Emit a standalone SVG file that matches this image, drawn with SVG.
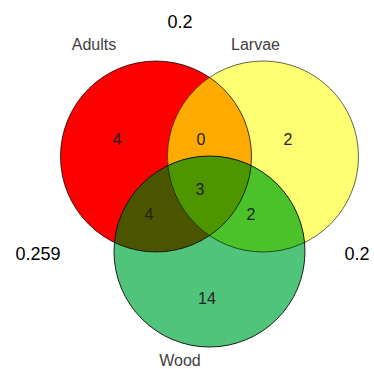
<svg xmlns="http://www.w3.org/2000/svg" width="374" height="369" viewBox="0 0 374 369">
<style>
.lbl{font-family:"Liberation Sans",Arial,sans-serif;font-size:16px;fill:#404040;text-anchor:middle}
.val{font-family:"Liberation Sans",Arial,sans-serif;font-size:18px;fill:#000;text-anchor:middle}
.cnt{font-family:"Liberation Sans",Arial,sans-serif;font-size:16px;fill:#222;text-anchor:middle}
.edge{fill:none;stroke:#000;stroke-width:1}
</style>
<defs>
<clipPath id="cA"><circle cx="156" cy="156.5" r="95.5"/></clipPath>
<clipPath id="cL"><circle cx="263" cy="156.5" r="95.5"/></clipPath>
<clipPath id="cW"><circle cx="209.5" cy="251.5" r="95.5"/></clipPath>
</defs>
<rect width="374" height="369" fill="#fff"/>
<g id="adults">
<circle cx="156" cy="156.5" r="95.5" fill="#ff0000"/>
</g>
<g id="larvae">
<circle cx="263" cy="156.5" r="95.5" fill="#ffff73"/>
<circle cx="263" cy="156.5" r="95.5" fill="#ffaa00" clip-path="url(#cA)"/>
</g>
<g id="wood">
<circle cx="209.5" cy="251.5" r="95.5" fill="#50c47a"/>
<g clip-path="url(#cA)"><circle cx="209.5" cy="251.5" r="95.5" fill="#4b5500"/></g>
<g clip-path="url(#cL)"><circle cx="209.5" cy="251.5" r="95.5" fill="#4cc22a"/></g>
<g clip-path="url(#cA)"><g clip-path="url(#cL)"><circle cx="209.5" cy="251.5" r="95.5" fill="#4e9600"/></g></g>
</g>
<g id="outlines">
<circle class="edge" cx="156" cy="156.5" r="95.5" stroke-opacity="0.75"/>
<circle class="edge" cx="263" cy="156.5" r="95.5" stroke-opacity="0.6"/>
<circle class="edge" cx="209.5" cy="251.5" r="95.5" stroke-opacity="0.85"/>
</g>
<g id="labels">
<text class="lbl" x="94" y="50">Adults</text>
<text class="lbl" x="255.5" y="50">Larvae</text>
<text class="lbl" x="180" y="366">Wood</text>
<text class="val" x="180" y="28">0.2</text>
<text class="val" x="38" y="260">0.259</text>
<text class="val" x="357" y="260">0.2</text>
</g>
<g id="counts">
<text class="cnt" x="117" y="145">4</text>
<text class="cnt" x="201" y="145">0</text>
<text class="cnt" x="288" y="145">2</text>
<text class="cnt" x="200" y="195">3</text>
<text class="cnt" x="149" y="220">4</text>
<text class="cnt" x="251" y="220">2</text>
<text class="cnt" x="207" y="304">14</text>
</g>
</svg>
